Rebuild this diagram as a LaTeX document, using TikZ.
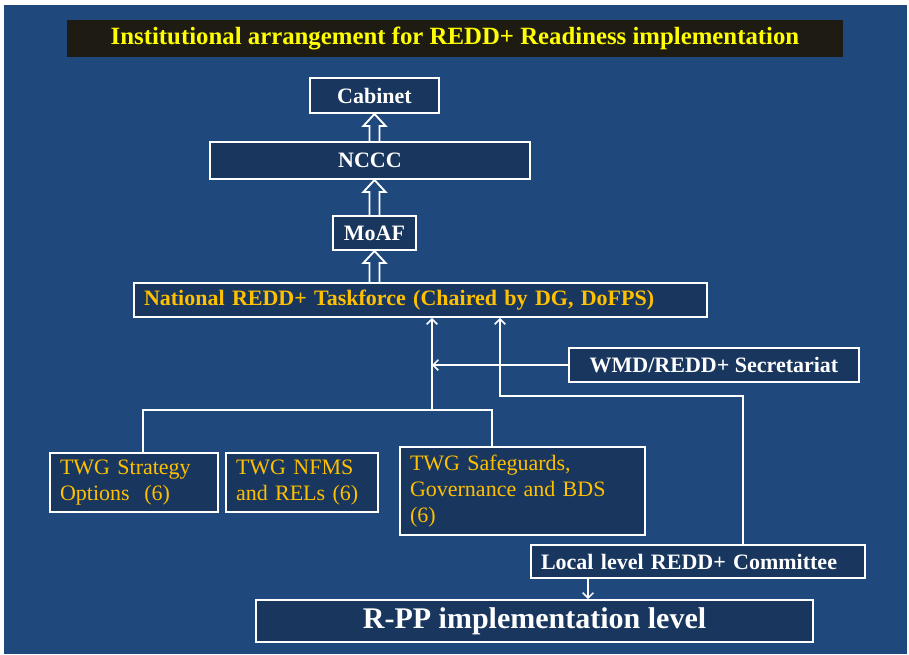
\documentclass[tikz,border=0pt]{standalone}
\usepackage{fontspec}
\setmainfont{Liberation Serif}
\usetikzlibrary{arrows.meta,calc}
\definecolor{bgblue}{RGB}{31,73,125}
\definecolor{boxblue}{RGB}{24,54,94}
\definecolor{titlebg}{RGB}{30,28,18}
\definecolor{orangetxt}{RGB}{255,192,0}
\definecolor{yellowtxt}{RGB}{255,255,0}
\tikzset{
  orgbox/.style={draw=white, line width=1.4pt, fill=boxblue, text=white, inner sep=0pt,
    font=\fontsize{16.5}{19.5}\selectfont\bfseries},
  twgbox/.style={orgbox, font=\fontsize{16.5}{19.5}\selectfont, text=orangetxt, align=left, inner xsep=7.5pt},
  thinarr/.style={draw=white, line width=1.1pt, -{Straight Barb[length=4pt,width=8pt]}},
  thinline/.style={draw=white, line width=1.1pt},
  hollow/.style={draw=white, line width=1.4pt, line join=miter}
}
\newcommand\hollowup[2]{%
  \draw[hollow] let \p1=(#1), \p2=(#2) in
    (\x1-3.75pt,\y1) -- (\x1-3.75pt,\y2-9pt) -- (\x1-8.25pt,\y2-9pt) -- (\x1,\y2)
    -- (\x1+8.25pt,\y2-9pt) -- (\x1+3.75pt,\y2-9pt) -- (\x1+3.75pt,\y1);}
\begin{document}
\begin{tikzpicture}[x=0.75pt,y=-0.75pt]
\useasboundingbox (0,0) rectangle (909,654);
\fill[white] (0,0) rectangle (909,654);
\fill[bgblue] (4,5) rectangle (907,654);

\node[fill=titlebg, minimum width=582pt, minimum height=27.75pt, inner sep=0pt,
  text=yellowtxt, font=\fontsize{18.6}{22}\selectfont\bfseries] (title) at (455,38.5)
  {Institutional arrangement for REDD+ Readiness implementation};

\node[orgbox, minimum width=96.75pt, minimum height=26.25pt] (cabinet) at (374.5,95.5) {Cabinet};
\node[orgbox, minimum width=240pt, minimum height=27.75pt] (nccc) at (370,160.5) {NCCC};
\node[orgbox, minimum width=62.25pt, minimum height=25.5pt] (moaf) at (374.5,233) {MoAF};
\node[orgbox, text=orangetxt, align=left, text width=414.75pt, inner xsep=7.5pt,
  minimum height=25.5pt] (tf) at (420.5,300) {National REDD+ Taskforce (Chaired by DG, DoFPS)};
\node[orgbox, minimum width=217.5pt, minimum height=25.5pt] (wmd) at (714,365) {WMD/REDD+ Secretariat};

\node[twgbox, text width=111pt, minimum height=44.25pt] (twg1) at (134,482.5) {TWG Strategy\\Options~~(6)};
\node[twgbox, text width=99pt, minimum height=44.25pt] (twg2) at (302,482.5) {TWG NFMS\\and RELs (6)};
\node[twgbox, text width=168.75pt, minimum height=66pt] (twg3) at (522.5,491) {TWG Safeguards,\\Governance and BDS\\(6)};

\node[orgbox, align=left, text width=235.5pt, inner xsep=7.5pt, minimum height=24.75pt] (local) at (698,561.5) {Local level REDD+ Committee};
\node[orgbox, minimum width=417.75pt, minimum height=31.5pt,
  font=\fontsize{22.5}{26}\selectfont\bfseries] (rpp) at (534.5,621) {R-PP implementation level};

% hollow block arrows
\hollowup{moaf.south |- tf.north}{moaf.south}
\hollowup{moaf.north}{moaf.north |- nccc.south}
\hollowup{cabinet.south |- nccc.north}{cabinet.south}

% connectors
\coordinate (jl) at (143,410);
\coordinate (jm) at (432,410);
\coordinate (jr) at (492,410);
\coordinate (lr) at (743,396);
\coordinate (lt) at (500,396);
\coordinate (lx) at (588,0);

\draw[thinline] (twg1.north -| jl) -- (jl) -- (jr) -- (twg3.north -| jr);
\draw[thinarr] (jm) -- (jm |- tf.south);
\draw[thinarr] (wmd.west) -- (wmd.west -| jm);
\draw[thinarr] (local.north -| lr) -- (lr) -- (lt) -- (lt |- tf.south);
\draw[thinarr] (local.south -| lx) -- (rpp.north -| lx);
\end{tikzpicture}
\end{document}
